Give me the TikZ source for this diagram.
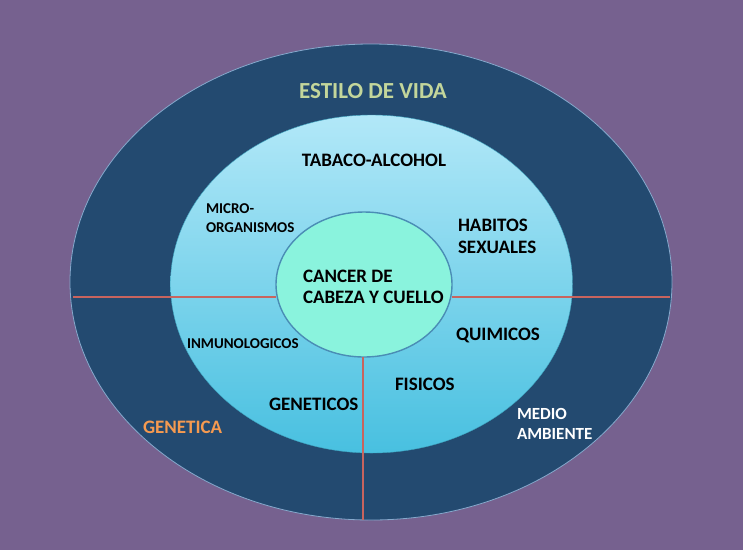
\documentclass[tikz,border=0pt]{standalone}
\usepackage{fontspec}
\setmainfont{Carlito}
\usetikzlibrary{shapes.geometric}
\definecolor{bgpurple}{HTML}{76618F}
\definecolor{navy}{HTML}{234A70}
\definecolor{navyedge}{HTML}{86A9CC}
\definecolor{midtop}{HTML}{B2E8F8}
\definecolor{midbot}{HTML}{48C0E0}
\definecolor{innerfill}{HTML}{8AF3DD}
\definecolor{inneredge}{HTML}{4A8DB5}
\definecolor{divline}{HTML}{C8645E}
\definecolor{lifegreen}{HTML}{C3D69B}
\definecolor{genorange}{HTML}{F59A50}
\tikzset{
  ring/.style={ellipse, inner sep=0pt, outer sep=0pt},
  divider/.style={draw=divline, line width=2pt},
  lbl/.style={inner sep=0pt, outer sep=0pt, font=\bfseries\fontsize{19}{23}\selectfont, text=black},
  lblsmall/.style={lbl, font=\bfseries\fontsize{15}{19}\selectfont},
}
\begin{document}
\begin{tikzpicture}[x=1pt,y=-1pt]
\fill[bgpurple] (0,0) rectangle (743,550);
\useasboundingbox (0,0) rectangle (743,550);
% rings
\node[ring, fill=navy, draw=navyedge, line width=0.8pt, minimum width=602pt, minimum height=476pt] (outer) at (371,282) {};
\node[ring, top color=midtop, bottom color=midbot, draw=midbot!85!black, line width=0.4pt, minimum width=402pt, minimum height=338pt] (middle) at (371.5,284) {};
% divider end points
\coordinate (hleft) at (73,297);
\coordinate (hright) at (670,297);
\coordinate (vbottom) at (363,520);
\node[ring, fill=innerfill, draw=inneredge, line width=1.4pt, minimum width=176pt, minimum height=145pt] (inner) at (364,284.5) {};
\draw[divider] (hleft) -- (inner.west |- hleft);
\draw[divider] (inner.east |- hright) -- (hright);
\draw[divider] (inner.south -| vbottom) -- (vbottom);
% labels
\node[lbl, anchor=base, text=lifegreen, font=\bfseries\fontsize{23}{27}\selectfont] (estilo) at (373,98) {ESTILO DE VIDA};
\node[lbl, anchor=base] (tabaco) at (374,166) {TABACO-ALCOHOL};
\node[lblsmall, anchor=base west] (micro1) at (206,213) {MICRO-};
\node[lblsmall, anchor=base west] (micro2) at (206,232) {ORGANISMOS};
\node[lbl, anchor=base west] (hab1) at (458,231) {HABITOS};
\node[lbl, anchor=base west] (hab2) at (458,253) {SEXUALES};
\node[lbl, anchor=base west] (can1) at (303,282) {CANCER DE};
\node[lbl, anchor=base west] (can2) at (303,303) {CABEZA Y CUELLO};
\node[lbl, anchor=base west] (quim) at (456,340) {QUIMICOS};
\node[lblsmall, anchor=base west] (inmu) at (187,348) {INMUNOLOGICOS};
\node[lbl, anchor=base west] (fisi) at (395,390) {FISICOS};
\node[lbl, anchor=base west] (genet) at (269,410) {GENETICOS};
\node[lbl, anchor=base west, text=genorange] (genetica) at (143,433) {GENETICA};
\node[lbl, anchor=base west, text=white, font=\bfseries\fontsize{17}{20}\selectfont] (medio1) at (517,419) {MEDIO};
\node[lbl, anchor=base west, text=white, font=\bfseries\fontsize{17}{20}\selectfont] (medio2) at (517,439) {AMBIENTE};
\end{tikzpicture}
\end{document}
